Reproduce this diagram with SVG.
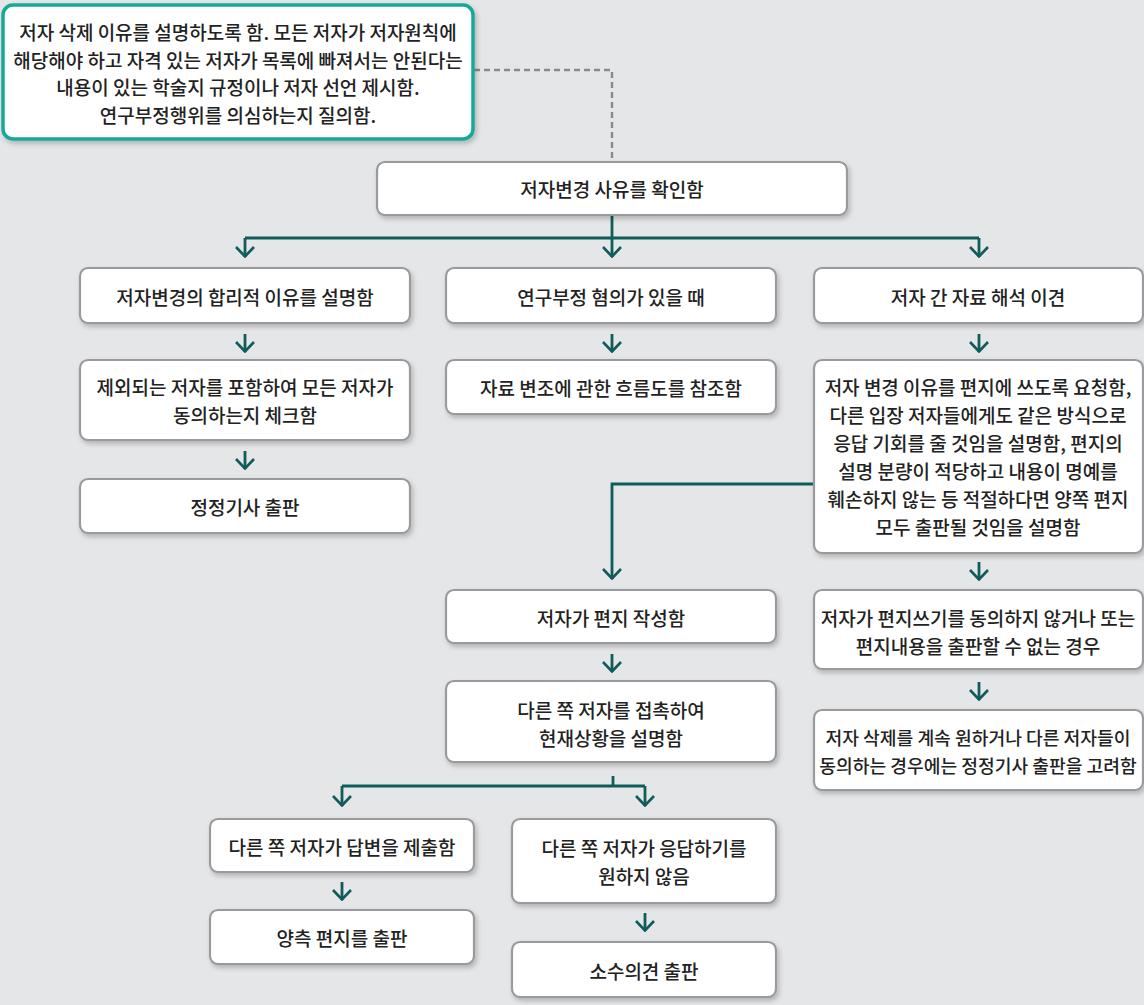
<svg xmlns="http://www.w3.org/2000/svg" width="1144" height="1005" viewBox="0 0 1144 1005">
<defs>
<filter id="sh" x="-10%" y="-10%" width="130%" height="140%">
<feDropShadow dx="2" dy="3" stdDeviation="2.5" flood-color="#000" flood-opacity="0.22"/>
</filter>
<marker id="ad" viewBox="0 0 20 12" refX="10" refY="11" markerWidth="20" markerHeight="12" markerUnits="userSpaceOnUse" orient="0">
<path d="M1,1 L10,10.5 L19,1" fill="none" stroke="#0f5c5a" stroke-width="2.6"/>
</marker>
</defs>
<style>
.box{fill:#fff;stroke:#9a9a9c;stroke-width:2.2;filter:url(#sh)}
.teal{fill:#fff;stroke:#17a899;stroke-width:3.5;filter:url(#sh)}
text{font-family:"Noto Sans CJK KR","Noto Sans",sans-serif;font-size:19px;font-weight:500;fill:#222;text-anchor:middle;dominant-baseline:central}
.sm{font-size:18.2px}
.ln{fill:none;stroke:#0f5c5a;stroke-width:2.8}
.dash{fill:none;stroke:#8a8a8c;stroke-width:2.4;stroke-dasharray:6 4}
</style>
<rect width="1144" height="1005" fill="#e5e6e8"/>

<g id="connectors">
<path class="dash" d="M474,70 H612 V162"/>
<path class="ln" d="M612,216 V238"/>
<path class="ln" d="M245,238 H979"/>
<path class="ln" d="M245,238 V257" marker-end="url(#ad)"/>
<path class="ln" d="M612,238 V257" marker-end="url(#ad)"/>
<path class="ln" d="M979,238 V257" marker-end="url(#ad)"/>
<path class="ln" d="M245,334 V352" marker-end="url(#ad)"/>
<path class="ln" d="M612,334 V352" marker-end="url(#ad)"/>
<path class="ln" d="M979,334 V352" marker-end="url(#ad)"/>
<path class="ln" d="M245,451 V469" marker-end="url(#ad)"/>
<path class="ln" d="M814,484 H612 V579" marker-end="url(#ad)"/>
<path class="ln" d="M979,562 V580" marker-end="url(#ad)"/>
<path class="ln" d="M612,654 V672" marker-end="url(#ad)"/>
<path class="ln" d="M979,682 V700" marker-end="url(#ad)"/>
<path class="ln" d="M613,776 V786"/>
<path class="ln" d="M342,786 H645"/>
<path class="ln" d="M342,786 V806" marker-end="url(#ad)"/>
<path class="ln" d="M645,786 V806" marker-end="url(#ad)"/>
<path class="ln" d="M342,882 V900" marker-end="url(#ad)"/>
<path class="ln" d="M645,913 V931" marker-end="url(#ad)"/>
</g>

<g id="n-note">
<rect class="teal" x="3" y="5" width="470" height="134" rx="10"/>
<text x="238" y="31">저자 삭제 이유를 설명하도록 함. 모든 저자가 저자원칙에</text>
<text x="238" y="59">해당해야 하고 자격 있는 저자가 목록에 빠져서는 안된다는</text>
<text x="238" y="86">내용이 있는 학술지 규정이나 저자 선언 제시함.</text>
<text x="238" y="114">연구부정행위를 의심하는지 질의함.</text>
</g>

<g id="n-check">
<rect class="box" x="377" y="162" width="470" height="53" rx="8"/>
<text x="612" y="188">저자변경 사유를 확인함</text>
</g>

<g id="n-reason">
<rect class="box" x="80" y="268" width="330" height="55" rx="8"/>
<text x="245" y="296">저자변경의 합리적 이유를 설명함</text>
</g>
<g id="n-misconduct">
<rect class="box" x="446" y="268" width="330" height="55" rx="8"/>
<text x="611" y="296">연구부정 혐의가 있을 때</text>
</g>
<g id="n-dispute">
<rect class="box" x="814" y="268" width="329" height="55" rx="8"/>
<text x="978" y="296">저자 간 자료 해석 이견</text>
</g>

<g id="n-agree">
<rect class="box" x="80" y="360" width="330" height="80" rx="8"/>
<text x="245" y="386">제외되는 저자를 포함하여 모든 저자가</text>
<text x="245" y="414">동의하는지 체크함</text>
</g>
<g id="n-flow">
<rect class="box" x="446" y="360" width="330" height="54" rx="8"/>
<text x="611" y="387">자료 변조에 관한 흐름도를 참조함</text>
</g>
<g id="n-letter-req">
<rect class="box" x="814" y="360" width="329" height="193" rx="8"/>
<text x="978" y="386">저자 변경 이유를 편지에 쓰도록 요청함,</text>
<text x="978" y="414">다른 입장 저자들에게도 같은 방식으로</text>
<text x="978" y="442">응답 기회를 줄 것임을 설명함, 편지의</text>
<text x="978" y="470">설명 분량이 적당하고 내용이 명예를</text>
<text x="978" y="498">훼손하지 않는 등 적절하다면 양쪽 편지</text>
<text x="978" y="526">모두 출판될 것임을 설명함</text>
</g>

<g id="n-erratum">
<rect class="box" x="80" y="479" width="330" height="54" rx="8"/>
<text x="245" y="506">정정기사 출판</text>
</g>

<g id="n-write">
<rect class="box" x="446" y="590" width="330" height="53" rx="8"/>
<text x="611" y="617">저자가 편지 작성함</text>
</g>
<g id="n-refuse">
<rect class="box" x="814" y="590" width="329" height="79" rx="8"/>
<text x="978" y="617">저자가 편지쓰기를 동의하지 않거나 또는</text>
<text x="978" y="645">편지내용을 출판할 수 없는 경우</text>
</g>

<g id="n-contact">
<rect class="box" x="446" y="681" width="330" height="81" rx="8"/>
<text x="611" y="709">다른 쪽 저자를 접촉하여</text>
<text x="611" y="737">현재상황을 설명함</text>
</g>
<g id="n-consider">
<rect class="box" x="814" y="710" width="329" height="80" rx="8"/>
<text class="sm" x="978" y="737">저자 삭제를 계속 원하거나 다른 저자들이</text>
<text class="sm" x="978" y="765">동의하는 경우에는 정정기사 출판을 고려함</text>
</g>

<g id="n-reply">
<rect class="box" x="210" y="819" width="264" height="53" rx="8"/>
<text x="342" y="846">다른 쪽 저자가 답변을 제출함</text>
</g>
<g id="n-noreply">
<rect class="box" x="512" y="819" width="264" height="84" rx="8"/>
<text x="644" y="847">다른 쪽 저자가 응답하기를</text>
<text x="644" y="875">원하지 않음</text>
</g>
<g id="n-both">
<rect class="box" x="210" y="910" width="264" height="54" rx="8"/>
<text x="342" y="937">양측 편지를 출판</text>
</g>
<g id="n-minority">
<rect class="box" x="512" y="942" width="264" height="55" rx="8"/>
<text x="644" y="970">소수의견 출판</text>
</g>
</svg>
